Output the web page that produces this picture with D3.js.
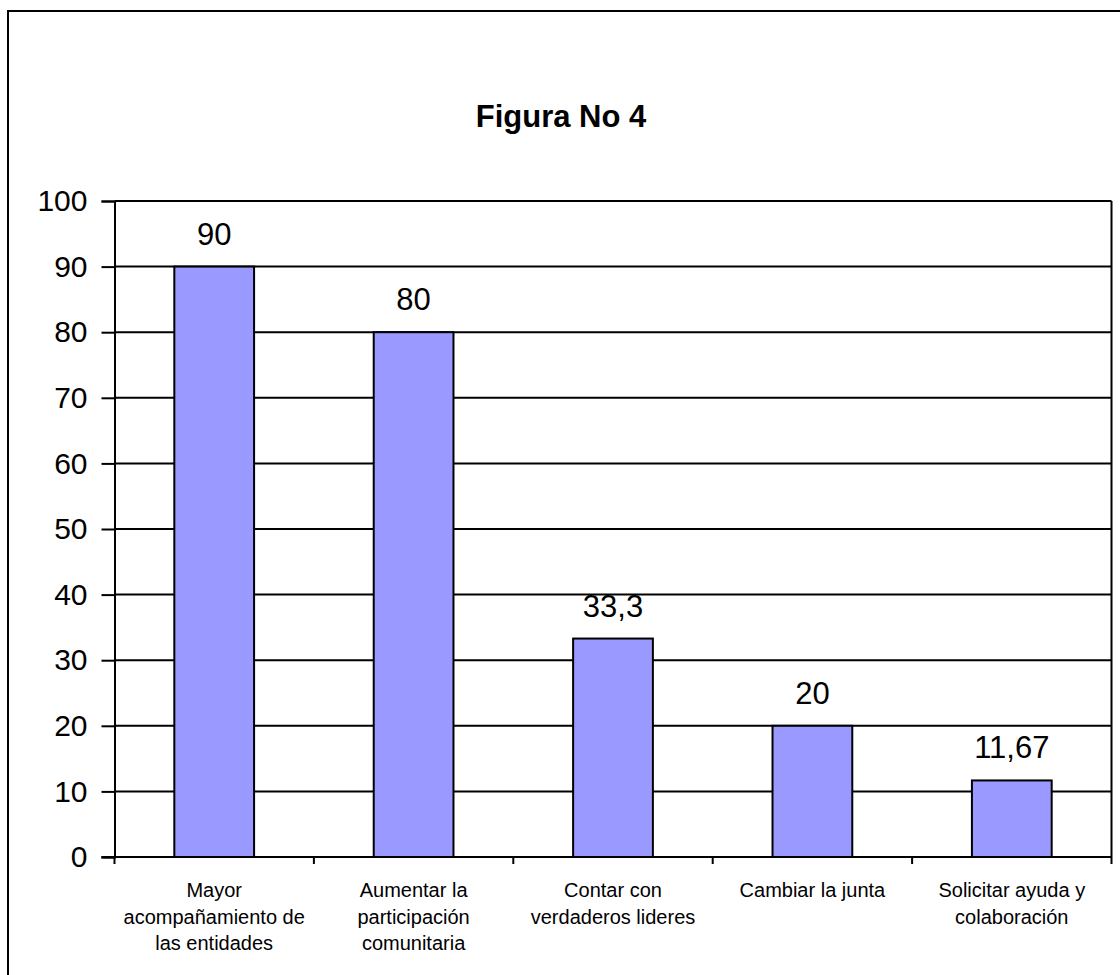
<!DOCTYPE html>
<html>
<head>
<meta charset="utf-8">
<script src="https://cdn.jsdelivr.net/npm/d3@7.9.0/dist/d3.min.js"></script>
<style>
  html, body { margin: 0; padding: 0; background: #fff; }
  svg { display: block; font-family: Arial, "Liberation Sans", sans-serif; }
</style>
</head>
<body>
<svg id="chart" width="1120" height="975"></svg>
<script>
// data
const categories = [
  'Mayor acompañamiento de las entidades',
  'Aumentar la participación comunitaria',
  'Contar con verdaderos lideres',
  'Cambiar la junta',
  'Solicitar ayuda y colaboración'
];
// how the category labels wrap in the original
const categoryLines = [
  ['Mayor', 'acompañamiento de', 'las entidades'],
  ['Aumentar la', 'participación', 'comunitaria'],
  ['Contar con', 'verdaderos lideres'],
  ['Cambiar la junta'],
  ['Solicitar ayuda y', 'colaboración']
];
const values = [90, 80, 33.3, 20, 11.67];
const yTicks = [0, 10, 20, 30, 40, 50, 60, 70, 80, 90, 100];
const title = 'Figura No 4';

const svg = d3.select('#chart');

// outer frame (right and bottom sides fall outside the picture)
svg.append('rect')
  .attr('x', 8).attr('y', 11)
  .attr('width', 1200).attr('height', 1000)
  .attr('fill', 'none').attr('stroke', '#000').attr('stroke-width', 2);

const plot = { left: 114.5, right: 1111.5, top: 201, bottom: 857 };

const x = d3.scaleBand()
  .domain(categories)
  .range([plot.left, plot.right])
  .paddingInner(0.6)
  .paddingOuter(0.3);

const y = d3.scaleLinear()
  .domain([0, 100])
  .range([plot.bottom, plot.top]);

// title
svg.append('text')
  .attr('x', 561).attr('y', 127)
  .attr('text-anchor', 'middle')
  .attr('font-size', 31).attr('font-weight', 'bold')
  .text(title);

// horizontal gridlines
svg.append('g')
  .selectAll('line')
  .data(yTicks.filter(t => t > 0))
  .join('line')
  .attr('x1', plot.left).attr('x2', plot.right)
  .attr('y1', d => y(d)).attr('y2', d => y(d))
  .attr('stroke', '#000').attr('stroke-width', 2);

// right border of plot area
svg.append('line')
  .attr('x1', plot.right).attr('x2', plot.right)
  .attr('y1', plot.top).attr('y2', plot.bottom)
  .attr('stroke', '#000').attr('stroke-width', 2);

// bars
svg.append('g')
  .selectAll('rect')
  .data(values)
  .join('rect')
  .attr('x', (d, i) => x(categories[i]))
  .attr('y', d => y(d))
  .attr('width', x.bandwidth())
  .attr('height', d => y(0) - y(d))
  .attr('fill', '#9999ff')
  .attr('stroke', '#000').attr('stroke-width', 2);

// value labels, decimal comma
svg.append('g')
  .selectAll('text')
  .data(values)
  .join('text')
  .attr('x', (d, i) => x(categories[i]) + x.bandwidth() / 2)
  .attr('y', d => y(d) - 22)
  .attr('text-anchor', 'middle')
  .attr('font-size', 31)
  .text(d => String(d).replace('.', ','));

// y axis
const yAxis = d3.axisLeft(y)
  .tickValues(yTicks)
  .tickSize(13)
  .tickPadding(14);

const gy = svg.append('g')
  .attr('transform', `translate(${plot.left},0)`)
  .call(yAxis);
gy.select('.domain').attr('stroke', '#000').attr('stroke-width', 2);
gy.selectAll('.tick line').attr('stroke', '#000').attr('stroke-width', 2);
gy.selectAll('.tick text')
  .attr('font-size', 30).attr('font-family', 'Arial, "Liberation Sans", sans-serif')
  .attr('fill', '#000');

// x axis baseline and category boundary ticks
svg.append('line')
  .attr('x1', plot.left - 13).attr('x2', plot.right)
  .attr('y1', plot.bottom).attr('y2', plot.bottom)
  .attr('stroke', '#000').attr('stroke-width', 2);

svg.append('g')
  .selectAll('line')
  .data(d3.range(categories.length + 1))
  .join('line')
  .attr('x1', i => plot.left + i * x.step())
  .attr('x2', i => plot.left + i * x.step())
  .attr('y1', plot.bottom).attr('y2', plot.bottom + 7)
  .attr('stroke', '#000').attr('stroke-width', 2);

// category labels
const catG = svg.append('g')
  .selectAll('text')
  .data(categories)
  .join('text')
  .attr('x', d => x(d) + x.bandwidth() / 2)
  .attr('y', 897)
  .attr('text-anchor', 'middle')
  .attr('font-size', 20);

catG.selectAll('tspan')
  .data((d, i) => categoryLines[i])
  .join('tspan')
  .attr('x', function () { return this.parentNode.getAttribute('x'); })
  .attr('dy', (d, i) => i === 0 ? 0 : 26.5)
  .text(d => d);
</script>
</body>
</html>
